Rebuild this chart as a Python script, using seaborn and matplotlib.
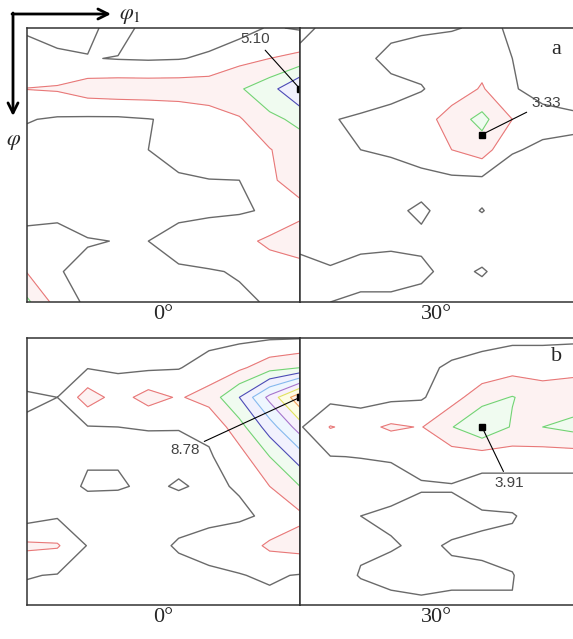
import numpy as np
import matplotlib
matplotlib.use('Agg')
import matplotlib.pyplot as plt
import seaborn as sns

# ODF sections, f(g) read on a 10 x 10 grid (rows = phi, columns = phi1, 0..90 deg)
phi1 = np.linspace(0, 90, 10)
phi = np.linspace(0, 90, 10)

a_0deg = [
    [0.9, 0.6, 0.7, 1.5, 0.6, 0.5, 0.5, 0.6, 1.1, 0.9],
    [1.3, 1.2, 1.05, 0.95, 0.9, 0.95, 1.15, 1.7, 2.0, 2.3],
    [2.02, 2.1, 2.5, 2.6, 2.6, 2.6, 2.6, 2.9, 3.6, 5.1],
    [1.05, 0.9, 0.85, 0.85, 0.97, 1.15, 1.5, 1.9, 2.8, 3.2],
    [0.7, 0.7, 0.95, 0.8, 1.0, 1.3, 1.5, 1.7, 1.95, 2.6],
    [0.6, 0.7, 0.9, 0.7, 0.8, 0.9, 0.98, 1.0, 1.9, 2.3],
    [0.7, 0.8, 0.6, 0.6, 0.7, 0.8, 0.85, 0.9, 1.1, 1.8],
    [1.3, 1.3, 1.05, 0.98, 1.0, 1.3, 1.5, 1.7, 2.2, 2.4],
    [1.95, 1.05, 0.8, 0.7, 0.8, 0.9, 0.95, 1.05, 1.5, 1.7],
    [3.2, 1.6, 0.8, 0.7, 0.75, 0.8, 0.85, 0.9, 1.05, 1.3],
]
a_30deg = [
    [1.1, 0.9, 0.85, 0.9, 0.9, 0.95, 1.1, 0.95, 0.8, 0.8],
    [0.9, 0.85, 0.9, 1.1, 1.3, 1.4, 1.6, 1.0, 0.8, 0.7],
    [0.8, 0.7, 0.8, 0.9, 0.95, 1.4, 2.1, 1.05, 0.8, 0.75],
    [0.9, 0.98, 1.05, 1.1, 1.5, 2.5, 3.3, 2.0, 1.2, 1.1],
    [0.8, 0.95, 1.0, 1.1, 1.3, 2.0, 2.5, 1.05, 0.9, 0.9],
    [0.6, 0.6, 0.6, 0.7, 0.8, 0.8, 0.8, 0.7, 0.6, 0.6],
    [0.6, 0.7, 0.75, 0.9, 1.08, 0.8, 1.02, 0.75, 0.7, 0.65],
    [0.85, 0.8, 0.85, 0.9, 0.9, 0.8, 0.7, 0.7, 0.7, 0.7],
    [1.2, 1.05, 1.2, 1.2, 1.1, 0.85, 1.05, 0.75, 0.7, 0.85],
    [1.3, 1.0, 0.9, 0.9, 0.85, 0.8, 0.75, 0.7, 0.7, 0.8],
]
b_0deg = [
    [0.5, 0.5, 0.5, 0.5, 0.5, 0.6, 0.7, 0.8, 0.9, 0.95],
    [0.8, 0.75, 0.95, 0.85, 0.85, 0.95, 1.4, 1.8, 2.6, 3.0],
    [1.05, 1.0, 2.5, 1.6, 2.4, 1.9, 2.4, 4.0, 6.3, 8.78],
    [0.95, 0.85, 0.95, 1.0, 1.03, 1.02, 1.2, 2.6, 4.5, 6.5],
    [0.7, 0.7, 0.95, 0.95, 0.8, 0.85, 0.9, 1.6, 3.0, 4.5],
    [0.7, 0.8, 1.06, 1.06, 0.9, 1.05, 0.9, 1.05, 2.0, 3.0],
    [0.6, 0.9, 0.7, 0.6, 0.6, 0.7, 0.8, 0.9, 1.1, 1.8],
    [2.2, 2.1, 0.95, 0.6, 0.7, 1.1, 1.3, 1.4, 2.2, 2.4],
    [1.05, 0.95, 0.6, 0.6, 0.6, 0.7, 0.85, 0.97, 1.1, 0.95],
    [0.7, 0.6, 0.5, 0.5, 0.5, 0.5, 0.6, 0.7, 0.8, 0.8],
]
b_30deg = [
    [0.5, 0.5, 0.5, 0.5, 0.6, 0.7, 0.75, 0.8, 0.8, 0.8],
    [0.6, 0.6, 0.6, 0.65, 0.85, 1.1, 1.3, 1.6, 1.6, 1.8],
    [0.6, 0.7, 0.6, 0.8, 0.9, 1.6, 2.6, 3.05, 2.5, 2.4],
    [0.9, 2.05, 1.7, 2.15, 1.95, 2.95, 3.91, 2.9, 3.0, 3.3],
    [0.8, 0.98, 1.02, 1.05, 1.2, 1.5, 1.5, 1.5, 1.5, 1.5],
    [0.6, 0.6, 0.65, 0.8, 0.95, 0.95, 0.6, 0.6, 0.6, 0.6],
    [0.5, 0.6, 1.0, 1.1, 1.2, 1.2, 1.1, 1.05, 0.7, 0.7],
    [0.5, 0.6, 0.9, 0.95, 1.1, 0.95, 0.9, 0.85, 0.7, 0.7],
    [0.5, 0.6, 1.05, 1.2, 1.2, 1.1, 1.1, 1.02, 0.7, 0.7],
    [0.5, 0.5, 0.6, 0.8, 0.9, 0.9, 0.9, 0.98, 0.7, 0.6],
]

# marked maxima: (phi1, phi, value) for a-0, a-30, b-0, b-30
peak_phi1 = [90, 60, 90, 60]
peak_phi = [20, 35, 20, 30]
peak_val = [5.10, 3.33, 8.78, 3.91]

section_labels = ['0°', '30°']
row_labels = ['a', 'b']

levels = [1, 2, 3, 4, 5, 6, 7, 8]
line_colors = ['#6a6a6a', '#e87878', '#74d274', '#4c4cb4', '#86b8ee', '#a474cc', '#e0e060', '#f2a55a']
fill_colors = ['#fdf2f2', '#f0fbf0', '#f1f1fd', '#eef6fe', '#f7f0fc', '#fdfde6', '#fff3e6']

sns.set_theme(style='white')
plt.rcParams['font.family'] = ['Liberation Serif', 'DejaVu Serif']
plt.rcParams['mathtext.fontset'] = 'stix'

fig = plt.figure(figsize=(5.73, 6.39), dpi=100)

W, H = 573, 639
rows = [(28, 302), (338, 605)]
cols = [(27, 300), (300, 573)]
data = [[a_0deg, a_30deg], [b_0deg, b_30deg]]
# label offsets in pixels (text position relative to marker)
offsets = [[(-45, 50), (64, 32)], [(-115, -53), (27, -56)]]

k = 0
for r, (top, bot) in enumerate(rows):
    for c, (left, right) in enumerate(cols):
        ax = fig.add_axes([left / W, 1 - bot / H, (right - left) / W, (bot - top) / H])
        z = np.array(data[r][c])
        ax.contourf(phi1, phi, z, levels=[2, 3, 4, 5, 6, 7, 8, 20], colors=fill_colors)
        ax.contour(phi1, phi, z, levels=levels, colors=line_colors,
                   linewidths=[1.0] + [0.8] * 7)
        ax.set_xlim(0, 90)
        ax.set_ylim(90, 0)
        ax.set_xticks([])
        ax.set_yticks([])
        for s in ax.spines.values():
            s.set_color('#333333')
            s.set_linewidth(1.1)
        if c == 1:
            ax.spines['right'].set_visible(False)
        ax.plot(peak_phi1[k], peak_phi[k], 's', color='black', markersize=5,
                clip_on=False, zorder=10)
        ax.annotate(f'{peak_val[k]:.2f}', xy=(peak_phi1[k], peak_phi[k]),
                    xytext=offsets[r][c], textcoords='offset pixels',
                    ha='center', va='center', fontsize=11, color='#444444',
                    family=['Liberation Sans', 'DejaVu Sans'],
                    arrowprops=dict(arrowstyle='-', color='black', lw=0.8,
                                    shrinkA=1, shrinkB=0),
                    zorder=11)
        ax.text(0.5, -0.012, section_labels[c], transform=ax.transAxes,
                ha='center', va='top', fontsize=16)
        if c == 1:
            ax.text(0.94, 0.92 if r == 0 else 0.93, row_labels[r], transform=ax.transAxes,
                    ha='center', va='center', fontsize=16)
        k += 1

# axis arrows in pixel coordinates
over = fig.add_axes([0, 0, 1, 1], facecolor='none')
over.set_xlim(0, W)
over.set_ylim(H, 0)
over.axis('off')
arrow = dict(arrowstyle='->,head_length=0.6,head_width=0.3',
             color='black', lw=2.0, shrinkA=0, shrinkB=0)
over.annotate('', xy=(111, 14), xytext=(12, 14), arrowprops=arrow)
over.annotate('', xy=(13, 116), xytext=(13, 13), arrowprops=arrow)
over.text(119, 16, r'$\varphi_1$', fontsize=16, ha='left', va='center')
over.text(6, 142, r'$\varphi$', fontsize=16, ha='left', va='center')

fig.savefig('out.png', dpi=100)
